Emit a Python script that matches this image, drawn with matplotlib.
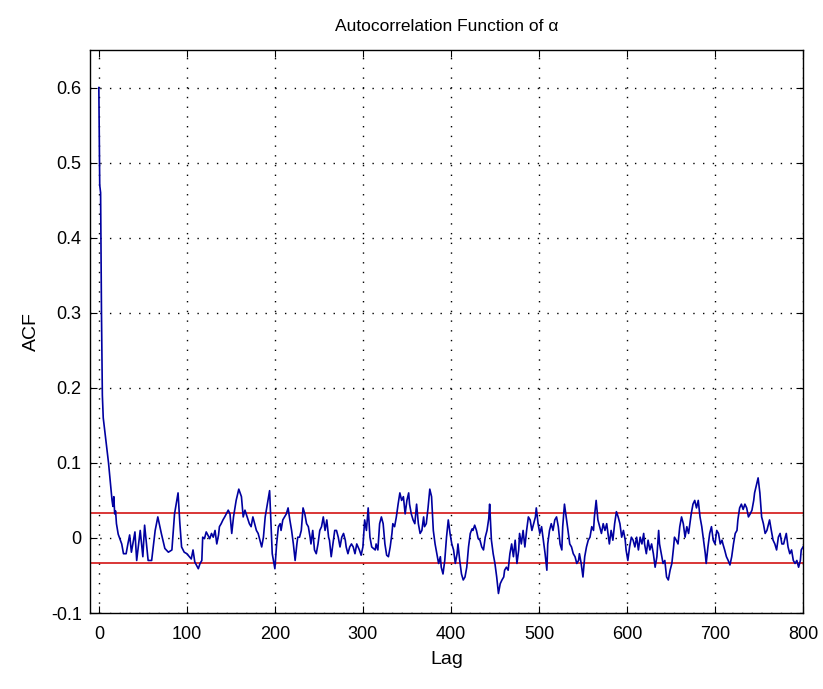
import matplotlib
matplotlib.use("Agg")
import matplotlib.pyplot as plt

plt.rcParams['font.family'] = ['Liberation Sans Narrow', 'Liberation Sans', 'DejaVu Sans']

lags = [0, 1, 2, 3, 4, 5, 6, 7, 8, 9, 10, 11, 12, 13, 14, 15, 16, 17, 18, 19, 20,
        22, 26, 28, 31, 33, 35, 37, 41, 43, 47, 50, 52, 56, 60, 64, 67, 71, 75, 79, 83, 86, 90, 92, 94,
        97, 100, 105, 107, 109, 113, 115, 117, 118, 120, 122, 126, 128, 130, 132, 134, 136, 137, 139,
        141, 143, 147, 149, 151, 153, 156, 159, 162, 164, 166, 171, 173, 175, 179, 181, 185, 187, 189,
        194, 197, 199, 200, 202, 204, 206, 207, 209, 211, 213, 215, 217, 219, 221, 223, 225, 226, 228,
        230, 232, 234, 236, 238, 240, 241, 243, 245, 247, 249, 251, 253, 255, 257, 259, 261, 262, 264,
        266, 268, 270, 272, 274, 276, 278, 280, 281, 283, 285, 287, 289, 291, 293, 296, 298,
        300, 302, 304, 306, 308, 310, 312, 314, 315, 317, 319, 321, 323, 325, 327, 329, 331, 333, 334,
        336, 338, 340, 342, 344, 346, 348, 350, 352, 353, 355, 357, 359, 361, 363, 365, 367, 369, 370,
        372, 374, 376, 378, 380, 382, 384, 386, 388, 389, 391, 393, 395, 397, 399,
        401, 403, 405, 407, 408, 410, 412, 414, 416, 418, 420, 422, 424, 425, 427, 429, 431, 433, 435,
        437, 439, 441, 443, 444, 446, 448, 450, 452, 454, 456, 458, 460, 461, 463, 465, 467, 469, 471,
        473, 475, 477, 478, 480, 482, 484, 486, 488, 490, 492, 494, 496, 497, 499,
        501, 503, 505, 507, 509, 510, 512, 514, 516, 518, 520, 522, 524, 526, 527, 529, 531, 533, 535,
        537, 539, 541, 543, 545, 546, 548, 550, 552, 554, 556, 558, 560, 562, 563, 565, 567, 569, 571,
        573, 575, 577, 579, 580, 582, 584, 586, 588, 590, 592, 594, 596, 598, 599,
        601, 603, 605, 607, 609, 611, 613, 615, 617, 619, 620, 622, 624, 626, 628, 630, 632, 634, 636,
        637, 639, 641, 643, 645, 647, 649, 651, 653, 654, 656, 658, 660, 662, 664, 666, 668, 670, 672,
        673, 675, 677, 679, 681, 683, 685, 687, 689, 690, 692, 694, 696, 698,
        700, 702, 704, 706, 708, 709, 711, 713, 715, 717, 719, 721, 723, 725, 726, 728, 730, 732, 734,
        736, 738, 740, 742, 744, 745, 747, 749, 751, 753, 755, 757, 759, 761, 762, 764, 766, 768, 770,
        772, 774, 776, 778, 779, 781, 783, 785, 787, 789, 791, 793, 795, 797, 798, 800]

acf = [0.60, 0.47, 0.46, 0.30, 0.19, 0.16, 0.15, 0.14, 0.13, 0.12, 0.11, 0.10, 0.088, 0.075, 0.062, 0.050, 0.042, 0.055, 0.032, 0.036, 0.019,
       0.005, -0.008, -0.021, -0.021, -0.008, 0.004, -0.019, 0.008, -0.030, 0.010, -0.025, 0.017, -0.030, -0.030, 0.010, 0.028, 0.006, -0.014, -0.019, -0.016, 0.032, 0.060, 0.020, -0.012,
       -0.019, -0.021, -0.028, -0.016, -0.032, -0.041, -0.034, -0.030, 0.001, -0.001, 0.008, -0.001, 0.006, 0.001, 0.010, -0.008, 0.004, 0.015, 0.019,
       0.024, 0.028, 0.037, 0.032, 0.006, 0.028, 0.050, 0.065, 0.055, 0.028, 0.037, 0.019, 0.015, 0.028, 0.010, 0.006, -0.012, 0.001, 0.028,
       0.063, -0.021, -0.034, -0.041, -0.008, 0.015, 0.019, 0.010, 0.024, 0.028, 0.032, 0.040, 0.024, 0.010, -0.008, -0.030, -0.008, 0.001, 0.001,
       0.010, 0.040, 0.032, 0.019, 0.015, 0.001, -0.008, 0.010, -0.016, -0.021, -0.008, 0.010, 0.015, 0.028, 0.010, 0.024, 0.001, -0.003, -0.025,
       -0.008, 0.010, 0.010, 0.001, -0.012, 0.001, 0.006, -0.003, -0.012, -0.021, -0.012, -0.008, -0.012, -0.021, -0.008, -0.016, -0.023,
       -0.012, 0.024, 0.010, 0.040, 0.001, -0.012, -0.014, -0.016, -0.008, -0.016, 0.019, 0.028, 0.019, -0.008, -0.023, -0.025, -0.012, 0.006, 0.019,
       0.015, 0.028, 0.045, 0.060, 0.050, 0.055, 0.032, 0.050, 0.060, 0.045, 0.032, 0.024, 0.019, 0.045, 0.019, 0.006, 0.010, 0.028, 0.015,
       0.019, 0.040, 0.065, 0.055, 0.010, -0.008, -0.021, -0.034, -0.025, -0.039, -0.048, -0.030, 0.001, 0.024, 0.006,
       -0.008, -0.016, -0.034, -0.021, -0.008, -0.030, -0.048, -0.056, -0.052, -0.039, -0.012, 0.006, 0.012, 0.010, 0.017, 0.010, -0.001, -0.003, -0.012,
       -0.016, 0.001, 0.010, 0.026, 0.045, -0.003, -0.021, -0.034, -0.052, -0.074, -0.061, -0.056, -0.052, -0.043, -0.039, -0.043, -0.021, -0.008, -0.025,
       -0.003, -0.034, -0.016, 0.006, -0.008, 0.010, -0.012, 0.010, 0.028, 0.024, 0.010, 0.019, 0.028, 0.040, 0.019,
       0.006, 0.015, -0.003, -0.021, -0.043, -0.008, 0.010, 0.019, 0.010, 0.024, 0.028, 0.015, -0.008, -0.016, 0.015, 0.045, 0.028, 0.010, -0.008,
       -0.012, -0.021, -0.025, -0.034, -0.030, -0.021, -0.034, -0.052, -0.025, -0.012, -0.003, 0.001, 0.015, 0.010, 0.028, 0.050, 0.024, 0.015, 0.006,
       0.019, 0.010, 0.019, 0.001, -0.008, 0.010, -0.003, 0.019, 0.035, 0.028, 0.019, 0.001, 0.010, -0.003, -0.016,
       -0.030, -0.012, 0.001, -0.003, -0.012, 0.001, -0.016, 0.001, -0.008, 0.006, -0.008, -0.021, -0.003, -0.016, -0.008, -0.021, -0.039, -0.025, 0.010,
       -0.008, -0.021, -0.034, -0.030, -0.052, -0.056, -0.043, -0.034, -0.012, 0.001, -0.003, -0.008, 0.015, 0.028, 0.019, 0.001, 0.015, 0.006, 0.024,
       0.032, 0.045, 0.050, 0.040, 0.050, 0.028, 0.015, -0.003, -0.021, -0.034, -0.012, 0.006, 0.015, -0.003,
       -0.008, 0.010, 0.006, -0.008, -0.003, -0.008, -0.016, -0.025, -0.030, -0.036, -0.025, -0.008, 0.006, 0.010, 0.024, 0.040, 0.045, 0.038, 0.045,
       0.040, 0.028, 0.032, 0.037, 0.050, 0.060, 0.070, 0.080, 0.060, 0.028, 0.019, 0.006, 0.010, 0.019, 0.024, 0.010, -0.003, -0.008, -0.016,
       0.001, 0.006, -0.008, -0.008, -0.003, 0.006, -0.012, -0.021, -0.016, -0.030, -0.034, -0.030, -0.039, -0.030, -0.016, -0.012]

conf_bound = 0.033
x_ticks = [0, 100, 200, 300, 400, 500, 600, 700, 800]
y_ticks = [-0.1, 0, 0.1, 0.2, 0.3, 0.4, 0.5, 0.6]
y_tick_labels = ['-0.1', '0', '0.1', '0.2', '0.3', '0.4', '0.5', '0.6']

fig = plt.figure(figsize=(8.23, 6.89), dpi=100)
ax = fig.add_axes([0.1094, 0.1103, 0.8663, 0.8171])

ax.plot(lags, acf, color='#0000a0', lw=1.2, zorder=3)
ax.axhline(conf_bound, color='#d00000', lw=1.1, zorder=2)
ax.axhline(-conf_bound, color='#d00000', lw=1.1, zorder=2)

ax.set_xlim(-10, 800)
ax.set_ylim(-0.1, 0.65)
ax.set_xticks(x_ticks)
ax.set_xticklabels([str(t) for t in x_ticks])
ax.set_yticks(y_ticks)
ax.set_yticklabels(y_tick_labels)
ax.tick_params(direction='in', length=5, width=0.8, top=True, right=True,
               labelsize=13, colors='black')
ax.tick_params(axis='x', pad=9)
ax.tick_params(axis='y', pad=6)
ax.grid(True, color='black', linestyle=(0, (1, 6)), linewidth=1.0)
for s in ax.spines.values():
    s.set_linewidth(1.0)
    s.set_color('black')

ax.set_title('Autocorrelation Function of α', fontsize=12.5, pad=14)
ax.set_xlabel('Lag', fontsize=14, labelpad=6)
ax.set_ylabel('ACF', fontsize=14, labelpad=8)

fig.savefig('out.png', dpi=100)
